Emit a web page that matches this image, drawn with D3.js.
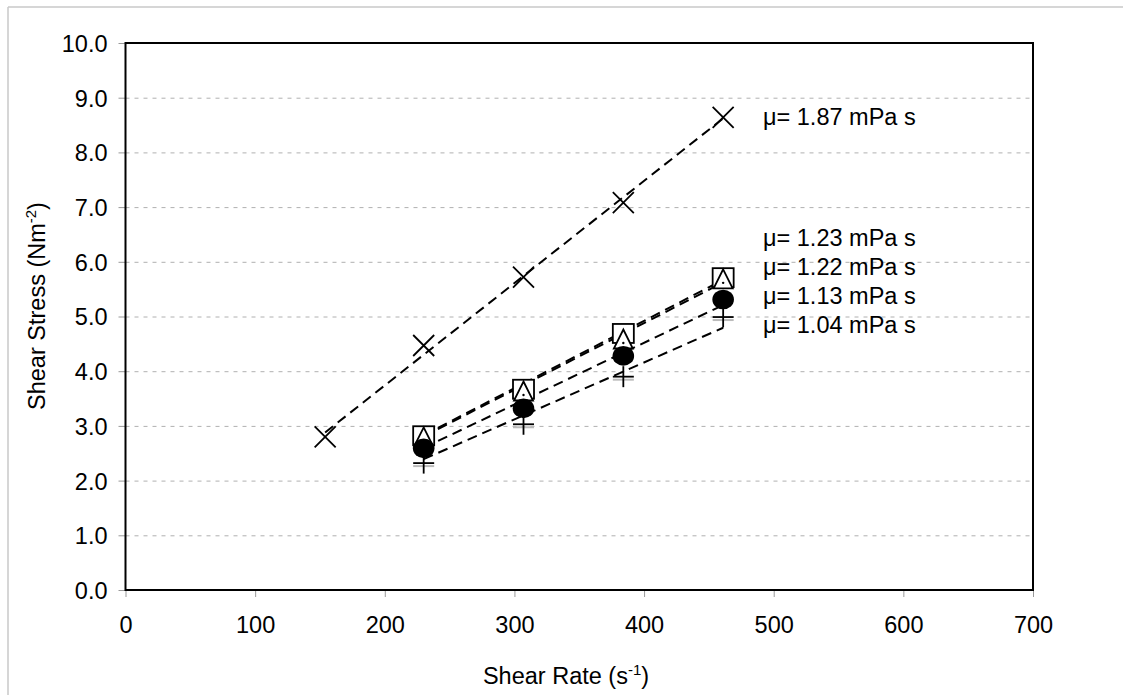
<!DOCTYPE html>
<html lang="en">
<head>
<meta charset="UTF-8">
<title>Shear Stress vs Shear Rate</title>
<script src="https://d3js.org/d3.v7.min.js"></script>
<style>
  body { margin: 0; background: #fff; }
  text { font-family: "Liberation Sans", Arial, sans-serif; fill: #000; }
</style>
</head>
<body>
<svg class="chart" width="1123" height="695"></svg>
<script>
// ticks
const xTicks = [0, 100, 200, 300, 400, 500, 600, 700];
const yTicks = [0, 1, 2, 3, 4, 5, 6, 7, 8, 9, 10];

// viscosity of each fluid (mPa s) -> slope of its dashed line
const muLabels = ["1.87", "1.23", "1.22", "1.13", "1.04"];

const rateX = [154, 230, 307, 384, 461];
const stressX = [2.80, 4.47, 5.72, 7.08, 8.64];
const rate4 = [230, 307, 384, 461];
const stressSquare = [2.82, 3.67, 4.69, 5.71];
const stressTriangle = [2.78, 3.62, 4.57, 5.67];
const stressCircle = [2.59, 3.32, 4.28, 5.31];
const stressPlus = [2.32, 3.03, 3.90, 4.99];

const svg = d3.select("svg.chart");
const fs = 23.5;

const x = d3.scaleLinear().domain([0, 700]).range([125.5, 1033]);
const y = d3.scaleLinear().domain([0, 10]).range([590, 43]);

// outer frame of the figure
svg.append("line").attr("x1", 8).attr("y1", 7).attr("x2", 1123).attr("y2", 7)
  .attr("stroke", "#c8c8c8").attr("stroke-width", 1.5);
svg.append("line").attr("x1", 8).attr("y1", 7).attr("x2", 8).attr("y2", 695)
  .attr("stroke", "#c8c8c8").attr("stroke-width", 1.5);

// gridlines
svg.append("g")
  .attr("transform", `translate(${x(0)},0)`)
  .call(d3.axisLeft(y).tickValues(yTicks.filter(d => d > 0 && d < 10)).tickSize(-(x(700) - x(0))).tickFormat(""))
  .call(g => g.select(".domain").remove())
  .call(g => g.selectAll("line").attr("stroke", "#b0b0b0").attr("stroke-dasharray", "4,5"));

// y axis
svg.append("g")
  .attr("transform", `translate(${x(0)},0)`)
  .call(d3.axisLeft(y).tickValues(yTicks).tickSize(7).tickPadding(11).tickFormat(d3.format(".1f")))
  .call(g => g.select(".domain").remove())
  .call(g => g.selectAll("line").attr("stroke", "#999"))
  .call(g => g.selectAll("text")
    .attr("dy", "0.36em")
    .style("font-size", fs + "px").style("font-family", "Liberation Sans, Arial, sans-serif"));

// x axis
svg.append("g")
  .attr("transform", `translate(0,${y(0)})`)
  .call(d3.axisBottom(x).tickValues(xTicks).tickSize(7).tickFormat(d3.format("d")))
  .call(g => g.select(".domain").remove())
  .call(g => g.selectAll("line").attr("stroke", "#999"))
  .call(g => g.selectAll("text")
    .attr("y", 35).attr("dy", "0.36em")
    .style("font-size", fs + "px").style("font-family", "Liberation Sans, Arial, sans-serif"));

// plot frame
svg.append("rect")
  .attr("x", x(0)).attr("y", y(10))
  .attr("width", x(700) - x(0)).attr("height", y(0) - y(10))
  .attr("fill", "none").attr("stroke", "#000").attr("stroke-width", 2);

// dashed lines: stress = mu * rate (scaled)
const lineSets = [
  { mu: +muLabels[0], r: rateX },
  { mu: +muLabels[1], r: rate4 },
  { mu: +muLabels[2], r: rate4 },
  { mu: +muLabels[3], r: rate4 },
  { mu: +muLabels[4], r: rate4 }
];
lineSets.forEach(s => {
  const r0 = d3.min(s.r), r1 = d3.max(s.r);
  svg.append("line")
    .attr("x1", x(r0)).attr("y1", y(s.mu * r0 / 100))
    .attr("x2", x(r1)).attr("y2", y(s.mu * r1 / 100))
    .attr("stroke", "#000").attr("stroke-width", 2)
    .attr("stroke-dasharray", "10,6");
});

const mk = svg.append("g");
const rx = 10.5, ry = 9.5;

// plus markers with grey shadow
rate4.forEach((r, i) => {
  const cx = x(r), cy = y(stressPlus[i]);
  mk.append("line").attr("x1", cx - rx).attr("x2", cx + rx).attr("y1", cy + 3).attr("y2", cy + 3)
    .attr("stroke", "#bbb").attr("stroke-width", 2);
  mk.append("line").attr("x1", cx - rx).attr("x2", cx + rx).attr("y1", cy).attr("y2", cy)
    .attr("stroke", "#000").attr("stroke-width", 1.8);
  mk.append("line").attr("x1", cx).attr("x2", cx).attr("y1", cy - ry - 1).attr("y2", cy + ry + 1)
    .attr("stroke", "#000").attr("stroke-width", 1.8);
});

// squares
rate4.forEach((r, i) => {
  mk.append("rect")
    .attr("x", x(r) - rx).attr("y", y(stressSquare[i]) - ry)
    .attr("width", 2 * rx).attr("height", 2 * ry)
    .attr("fill", "#fff").attr("stroke", "#000").attr("stroke-width", 1.8);
});

// triangles
rate4.forEach((r, i) => {
  const cx = x(r), cy = y(stressTriangle[i]);
  mk.append("path")
    .attr("d", `M${cx},${cy - ry - 1}L${cx + rx - 1},${cy + ry - 1}L${cx - rx + 1},${cy + ry - 1}Z`)
    .attr("fill", "#fff").attr("stroke", "#000").attr("stroke-width", 1.8);
  mk.append("circle").attr("cx", cx).attr("cy", cy + 3).attr("r", 1.2).attr("fill", "#000");
});

// circles
rate4.forEach((r, i) => {
  mk.append("ellipse")
    .attr("cx", x(r)).attr("cy", y(stressCircle[i]))
    .attr("rx", rx + 0.3).attr("ry", ry + 0.3)
    .attr("fill", "#000");
});

// crosses
rateX.forEach((r, i) => {
  const cx = x(r), cy = y(stressX[i]);
  mk.append("path")
    .attr("d", `M${cx - rx},${cy - ry - 1}L${cx + rx},${cy + ry + 1}M${cx - rx},${cy + ry + 1}L${cx + rx},${cy - ry - 1}`)
    .attr("stroke", "#000").attr("stroke-width", 1.8).attr("fill", "none");
});

// mu labels
const labelY = [125, 246, 275, 304, 333];
muLabels.forEach((m, i) => {
  svg.append("text")
    .attr("x", 763).attr("y", labelY[i])
    .style("font-size", fs + "px")
    .text(`\u03bc= ${m} mPa s`);
});

// axis titles
const xt = svg.append("text")
  .attr("x", 566).attr("y", 684)
  .attr("text-anchor", "middle")
  .style("font-size", fs + "px");
xt.append("tspan").text("Shear Rate (s");
xt.append("tspan").attr("dy", -9).style("font-size", "15px").text("-1");
xt.append("tspan").attr("dy", 9).text(")");

const yt = svg.append("text")
  .attr("transform", "translate(45,306) rotate(-90)")
  .attr("text-anchor", "middle")
  .style("font-size", fs + "px");
yt.append("tspan").text("Shear Stress (Nm");
yt.append("tspan").attr("dy", -9).style("font-size", "15px").text("-2");
yt.append("tspan").attr("dy", 9).text(")");
</script>
</body>
</html>
